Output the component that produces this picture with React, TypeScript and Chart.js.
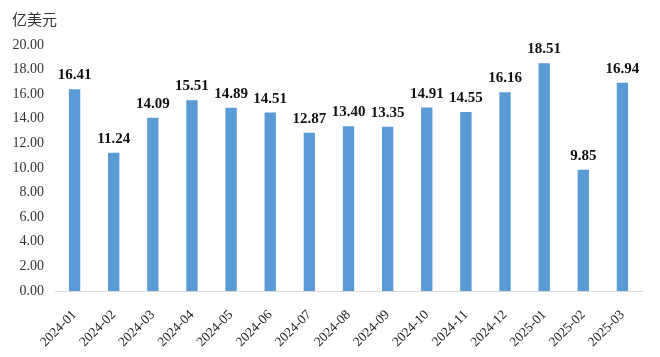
import React, { useEffect, useRef } from "react";
import { Chart, registerables } from "chart.js";

Chart.register(...registerables);

const categories = [
  "2024-01", "2024-02", "2024-03", "2024-04", "2024-05", "2024-06", "2024-07", "2024-08",
  "2024-09", "2024-10", "2024-11", "2024-12", "2025-01", "2025-02", "2025-03",
];
const values = [16.41, 11.24, 14.09, 15.51, 14.89, 14.51, 12.87, 13.4, 13.35, 14.91, 14.55, 16.16, 18.51, 9.85, 16.94];
const unitLabel = "亿美元";

const SERIF = "'Liberation Serif', 'Times New Roman', serif";

export default function App() {
  const ref = useRef<HTMLCanvasElement | null>(null);

  useEffect(() => {
    if (!ref.current) return;
    const labelPlugin = {
      id: "labels",
      afterDatasetsDraw(chart: any) {
        const ctx = chart.ctx;
        ctx.save();
        ctx.font = `bold 15px ${SERIF}`;
        ctx.fillStyle = "#111";
        ctx.textAlign = "center";
        ctx.textBaseline = "alphabetic";
        const meta = chart.getDatasetMeta(0);
        meta.data.forEach((el: any, i: number) => {
          ctx.fillText(values[i].toFixed(2), el.x, el.y - 10);
        });
        ctx.font = `15px 'Noto Sans CJK SC', sans-serif`;
        ctx.fillStyle = "#333";
        ctx.textAlign = "left";
        ctx.textBaseline = "middle";
        ctx.fillText(unitLabel, 12, 19);
        ctx.restore();
      },
    };
    const chart = new Chart(ref.current, {
      type: "bar",
      data: {
        labels: categories,
        datasets: [
          {
            data: values,
            backgroundColor: "#5B9BD5",
            barPercentage: 0.29,
            categoryPercentage: 1,
          },
        ],
      },
      options: {
        animation: false,
        responsive: false,
        maintainAspectRatio: false,
        layout: { padding: { top: 45, right: 18, left: 0, bottom: 0 } },
        plugins: { legend: { display: false }, tooltip: { enabled: false } },
        scales: {
          x: {
            grid: { display: false },
            border: { display: true, color: "#d9d9d9" },
            ticks: {
              autoSkip: false,
              minRotation: 45,
              maxRotation: 45,
              color: "#222",
              font: { family: SERIF, size: 13.5 },
              padding: 8,
            },
            afterFit(scale: any) {
              scale.height = 66;
            },
          },
          y: {
            min: 0,
            max: 20,
            grid: { display: false },
            border: { display: false },
            ticks: {
              stepSize: 2,
              color: "#333",
              font: { family: SERIF, size: 14 },
              padding: 3,
              callback: (v: any) => Number(v).toFixed(2),
            },
            afterFit(scale: any) {
              scale.width = 55;
            },
          },
        },
      },
      plugins: [labelPlugin],
    });
    return () => chart.destroy();
  }, []);

  return (
    <div style={{ position: "fixed", left: 0, top: 0, width: 660, height: 357, background: "#fff" }}>
      <canvas ref={ref} width={660} height={357} style={{ width: 660, height: 357 }} />
    </div>
  );
}
